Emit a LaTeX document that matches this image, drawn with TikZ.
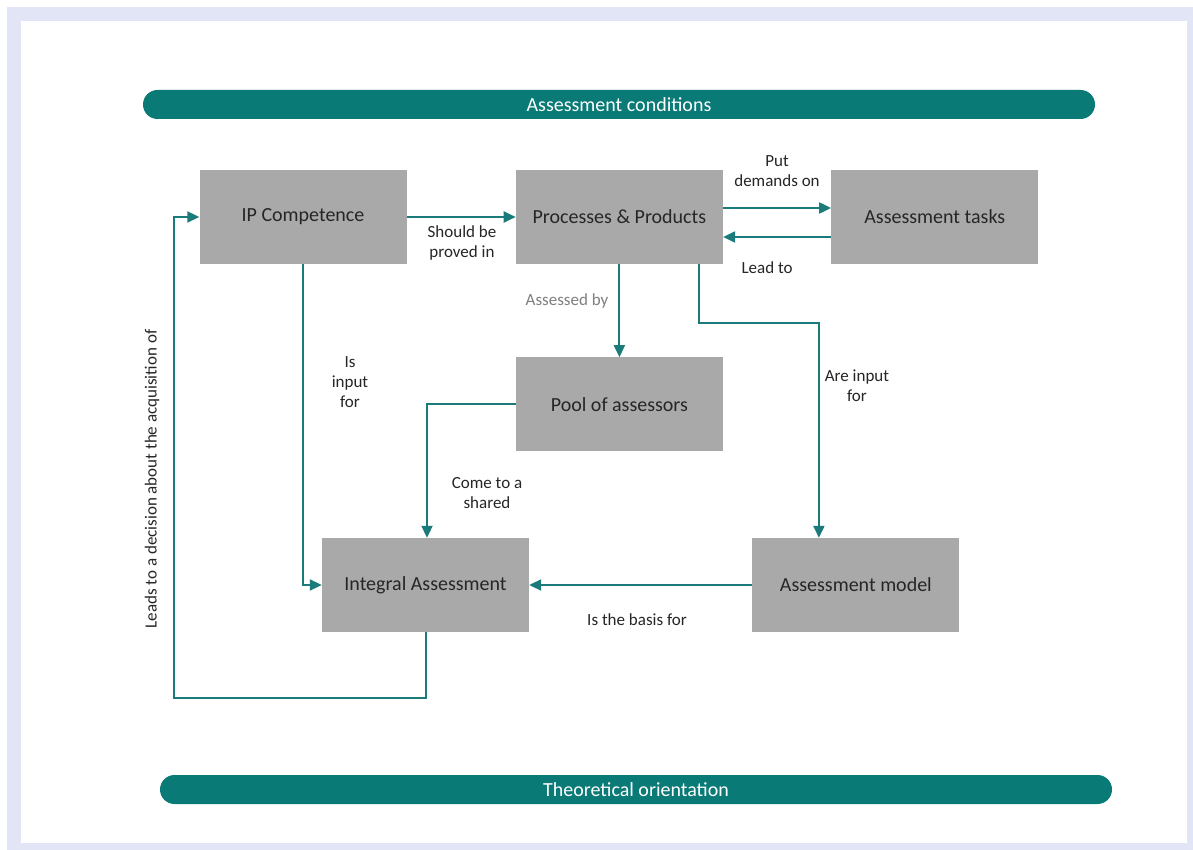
\documentclass[tikz,border=0pt]{standalone}
\usepackage{fontspec}
\setmainfont{Carlito}
\usetikzlibrary{arrows.meta,positioning}
\definecolor{tealline}{HTML}{1B7B7B}
\definecolor{tealbar}{HTML}{0A7A77}
\definecolor{boxgray}{HTML}{A9A9A9}
\definecolor{framebg}{HTML}{E1E5F5}
\definecolor{labelgray}{HTML}{7F7F7F}

\begin{document}
\begin{tikzpicture}[
    x=1pt, y=-1pt,
    node distance=93pt and 109pt,
    block/.style={fill=boxgray, minimum width=207pt, minimum height=94pt, inner sep=0pt, text=black!85, font=\fontsize{20}{24}\selectfont},
    bar/.style={fill=tealbar, rounded corners=14.5pt, minimum width=952pt, minimum height=29pt, inner sep=0pt, text=white, font=\fontsize{20}{24}\selectfont},
    lbl/.style={align=center, text=black!85, font=\fontsize{17}{20}\selectfont, inner sep=0pt},
    arrow/.style={draw=tealline, line width=2pt, -{Triangle[length=12pt,width=11pt]}}
]
    \useasboundingbox (0,0) rectangle (1193,850);
    % frame
    \fill[framebg] (7,7) rectangle (1193,850);
    \fill[white] (21,21) rectangle (1187,843);

    \node (cond) [bar] at (619,104.5) {Assessment conditions};
    \node (theory) [bar] at (636,789.5) {Theoretical orientation};

    \node (ip) [block] at (303,217) {IP Competence};
    \node (pp) [block, right=of ip] {Processes \& Products};
    \node (tasks) [block, right=108pt of pp] {Assessment tasks};
    \node (pool) [block, below=of pp] {Pool of assessors};
    \node (integral) [block] at (425.5,585) {Integral Assessment};
    \node (model) [block, right=223pt of integral] {Assessment model};

    \draw [arrow] (ip) -- (pp);
    \draw [arrow] ([yshift=9pt]pp.east) -- ([yshift=9pt]tasks.west);
    \draw [arrow] ([yshift=-20pt]tasks.west) -- ([yshift=-20pt]pp.east);
    \draw [arrow] (pp) -- (pool);
    \draw [arrow] ([xshift=80pt]pp.south) -- ++(0,59) -| ([xshift=-37pt]model.north);
    \draw [arrow] (pool.west) -| ([xshift=1.5pt]integral.north);
    \draw [arrow] (ip.south) |- (integral.west);
    \draw [arrow] (model) -- (integral);
    \draw [arrow] (integral.south) -- ++(0,66) -| ([xshift=-25pt]ip.west) -- (ip.west);

    % connector labels
    \node (should) [lbl] at (462,243) {Should be\\proved in};
    \node (demands) [lbl] at (777,171) {Put\\demands on};
    \node (leadto) [lbl] at (767,268) {Lead to};
    \node (assessed) [lbl, text=labelgray] at (567,301) {Assessed by};
    \node (areinput) [lbl] at (857,386) {Are input\\for};
    \node (isinput) [lbl] at (350,382) {Is\\input\\for};
    \node (shared) [lbl] at (487,493) {Come to a\\shared};
    \node (basis) [lbl] at (637,620) {Is the basis for};
    \node (leads) [lbl, rotate=90] at (152,479) {Leads to a decision about the acquisition of};
\end{tikzpicture}
\end{document}
